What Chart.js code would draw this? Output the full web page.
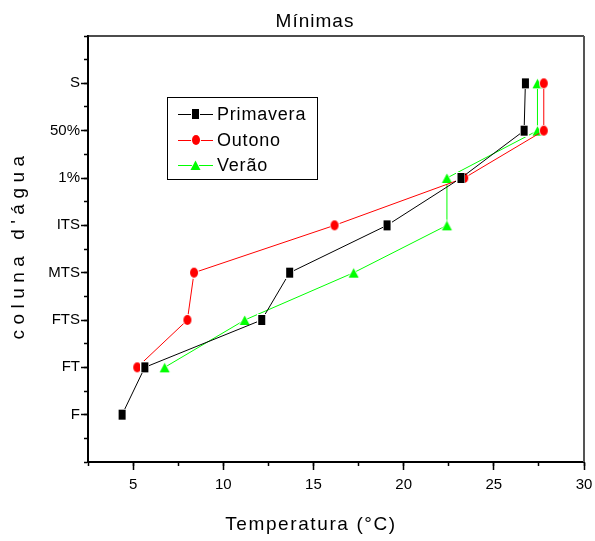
<!DOCTYPE html>
<html>
<head>
<meta charset="utf-8">
<script src="https://cdn.jsdelivr.net/npm/chart.js@4/dist/chart.umd.min.js"></script>
<style>
  html, body { margin: 0; padding: 0; background: #fff; }
  #wrap { width: 595px; height: 541px; position: relative; }
</style>
</head>
<body>
<div id="wrap"><canvas id="c" width="595" height="541"></canvas></div>
<script>
// ---- data ----
const categories = ['F', 'FT', 'FTS', 'MTS', 'ITS', '1%', '50%', 'S'];
const primavera = [4.39, 5.65, 12.13, 13.68, 19.08, 23.18, 26.68, 26.75];
const outono    = [null, 5.23, 8.01, 8.38, 16.17, 23.36, 27.77, 27.77];
const verao     = [null, 6.75, 11.19, 17.23, 22.4, 22.4, 27.42, 27.42];
const seriesNames = ['Primavera', 'Outono', 'Verão'];
const xMajorTicks = [5, 10, 15, 20, 25, 30];
const xMinorTicks = [2.5, 5, 7.5, 10, 12.5, 15, 17.5, 20, 22.5, 25, 27.5, 30];
const yMajorTicks = [1, 2, 3, 4, 5, 6, 7, 8];
const yMinorTicks = [0, 0.5, 1, 1.5, 2, 2.5, 3, 3.5, 4, 4.5, 5, 5.5, 6, 6.5, 7, 7.5, 8, 8.5, 9];
const titleText = 'Mínimas';
const xTitle = 'Temperatura (°C)';
const yTitle = "coluna d'água";

function toPoints(arr) {
  const pts = [];
  arr.forEach((v, i) => { if (v !== null) pts.push({ x: v, y: i + 1 }); });
  return pts;
}

// marker images
function makeMarker(kind) {
  const c = document.createElement('canvas');
  const ctx = c.getContext('2d');
  if (kind === 'square') {
    c.width = 9; c.height = 12;
    ctx.fillStyle = '#fff'; ctx.fillRect(0, 0, 9, 12);
    ctx.fillStyle = '#000'; ctx.fillRect(1, 1, 7, 10);
  } else if (kind === 'circle') {
    c.width = 10; c.height = 12;
    ctx.beginPath(); ctx.ellipse(5, 6, 5, 6, 0, 0, Math.PI * 2);
    ctx.fillStyle = '#fff'; ctx.fill();
    ctx.beginPath(); ctx.ellipse(5, 6, 4, 5, 0, 0, Math.PI * 2);
    ctx.fillStyle = '#ff0000'; ctx.fill();
  } else {
    c.width = 13; c.height = 12;
    ctx.beginPath(); ctx.moveTo(6.5, 0); ctx.lineTo(13, 12); ctx.lineTo(0, 12); ctx.closePath();
    ctx.fillStyle = '#fff'; ctx.fill();
    ctx.beginPath(); ctx.moveTo(6.5, 1.5); ctx.lineTo(11.5, 11); ctx.lineTo(1.5, 11); ctx.closePath();
    ctx.fillStyle = '#00ff00'; ctx.fill();
  }
  return c;
}
const markers = [makeMarker('square'), makeMarker('circle'), makeMarker('triangle')];
const colors = ['#000000', '#ff0000', '#00ff00'];
const seriesData = [primavera, outono, verao];

const datasets = seriesData.map((arr, i) => ({
  label: seriesNames[i],
  data: toPoints(arr),
  showLine: true,
  borderColor: colors[i],
  borderWidth: 1,
  pointStyle: markers[i],
  pointRadius: 5,
  xAxisID: 'x',
  yAxisID: 'y'
}));

const FONT = "'Liberation Sans', Arial, sans-serif";

const decorPlugin = {
  id: 'decor',
  afterDraw(chart) {
    const ctx = chart.ctx;
    const a = chart.chartArea;
    ctx.save();
    // top and right frame
    ctx.strokeStyle = '#111';
    ctx.lineWidth = 1.5;
    ctx.beginPath(); ctx.moveTo(a.left, a.top); ctx.lineTo(a.right, a.top); ctx.stroke();
    ctx.strokeStyle = '#555';
    ctx.lineWidth = 2;
    ctx.beginPath(); ctx.moveTo(a.right, a.top); ctx.lineTo(a.right, a.bottom); ctx.stroke();

    // titles
    ctx.fillStyle = '#000';
    ctx.textAlign = 'center';
    ctx.textBaseline = 'middle';
    ctx.font = '19px ' + FONT;
    ctx.letterSpacing = '1px';
    ctx.fillText(titleText, 315, 22);
    ctx.letterSpacing = '1.6px';
    ctx.fillText(xTitle, 311, 525);
    ctx.save();
    ctx.translate(19, 245);
    ctx.rotate(-Math.PI / 2);
    ctx.letterSpacing = '5.5px';
    ctx.fillText(yTitle, 0, 0);
    ctx.restore();

    // legend
    ctx.letterSpacing = '0.8px';
    ctx.strokeStyle = '#000';
    ctx.lineWidth = 1;
    ctx.strokeRect(167.5, 97.5, 150, 82);
    const rows = [114, 140, 165];
    chart.data.datasets.forEach((ds, i) => {
      const y = rows[i];
      ctx.strokeStyle = ds.borderColor;
      ctx.lineWidth = 1;
      ctx.beginPath(); ctx.moveTo(178, y + 0.5); ctx.lineTo(213, y + 0.5); ctx.stroke();
      const m = ds.pointStyle;
      ctx.drawImage(m, Math.round(195.5 - m.width / 2), Math.round(y - m.height / 2));
      ctx.fillStyle = '#000';
      ctx.textAlign = 'left';
      ctx.font = '18px ' + FONT;
      ctx.fillText(ds.label, 217, y + 1);
    });
    ctx.restore();
  }
};

new Chart(document.getElementById('c'), {
  type: 'scatter',
  data: { datasets },
  options: {
    responsive: false,
    animation: false,
    events: [],
    layout: { padding: { top: 36, right: 11, bottom: 0, left: 0 } },
    plugins: { legend: { display: false }, tooltip: { enabled: false }, title: { display: false } },
    scales: {
      x: {
        type: 'linear', position: 'bottom', min: 2.5, max: 30, weight: 1,
        afterBuildTicks(s) { s.ticks = xMajorTicks.map(v => ({ value: v })); },
        afterFit(s) { s.height = 79; s.paddingLeft = 0; s.paddingRight = 0; },
        grid: { drawOnChartArea: false, tickLength: 8, tickWidth: 1.5, tickColor: '#000' },
        border: { display: false },
        ticks: { color: '#000', font: { family: FONT, size: 15 }, padding: 6, maxRotation: 0,
                 callback: v => String(v) }
      },
      xm: {
        type: 'linear', position: 'bottom', min: 2.5, max: 30, weight: 0,
        afterBuildTicks(s) { s.ticks = xMinorTicks.map(v => ({ value: v })); },
        afterFit(s) { s.height = 0; s.paddingLeft = 0; s.paddingRight = 0; },
        grid: { drawOnChartArea: false, tickLength: 4, tickWidth: 1.5, tickColor: '#000' },
        border: { display: true, color: '#000', width: 2 },
        ticks: { display: false }
      },
      y: {
        type: 'linear', position: 'left', min: 0, max: 9, weight: 1,
        afterBuildTicks(s) { s.ticks = yMajorTicks.map(v => ({ value: v })); },
        afterFit(s) { s.width = 88; s.paddingTop = 0; s.paddingBottom = 0; },
        grid: { drawOnChartArea: false, tickLength: 7, tickWidth: 1.5, tickColor: '#000' },
        border: { display: false },
        ticks: { color: '#000', font: { family: FONT, size: 15 }, padding: 1,
                 callback: v => categories[v - 1] }
      },
      ym: {
        type: 'linear', position: 'left', min: 0, max: 9, weight: 0,
        afterBuildTicks(s) { s.ticks = yMinorTicks.map(v => ({ value: v })); },
        afterFit(s) { s.width = 0; s.paddingTop = 0; s.paddingBottom = 0; },
        grid: { drawOnChartArea: false, tickLength: 4, tickWidth: 1.5, tickColor: '#000' },
        border: { display: true, color: '#000', width: 2 },
        ticks: { display: false }
      }
    }
  },
  plugins: [decorPlugin]
});
</script>
</body>
</html>
